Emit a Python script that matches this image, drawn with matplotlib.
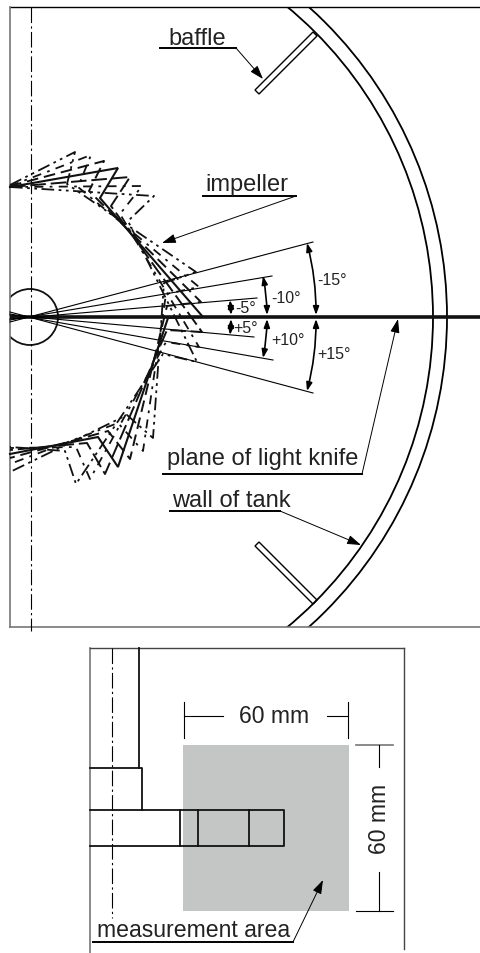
import matplotlib
matplotlib.use("Agg")
import matplotlib.pyplot as plt
from matplotlib.patches import Circle, FancyArrowPatch, Polygon, Rectangle

plt.rcParams['font.family'] = ['Liberation Sans', 'DejaVu Sans']

# everything in image pixels (x right, y down)
centre = (30, 318)
hub_r = 28
wall_r = [403, 417]

# one entry per blade position: -15 -10 -5 0 +5 +10 +15 degrees
blade_start_x = [10, 10, 10, 10, 10, 10, 10]
blade_start_y = [186, 187, 187, 188, 188, 188, 188]
tip_top = [(75, 153), (91, 156), (104, 162), (118, 169), (130, 178), (142, 187), (154, 197)]
root_top = [(67, 185), (78, 188), (89, 192), (100, 199), (111, 207), (120, 215), (128, 222)]
tip_mid = [(196, 273), (199, 288), (201, 303), (203, 318), (202, 333), (199, 348), (197, 363)]
root_mid = [(164, 284), (166, 295), (167, 307), (168, 319), (167, 331), (166, 343), (163, 355)]
tip_bot = [(153, 439), (143, 452), (130, 460), (118, 468), (105, 475), (90, 480), (76, 485)]
root_bot = [(127, 416), (118, 424), (108, 432), (98, 438), (87, 444), (76, 448), (65, 452)]
blade_end_x = [10, 10, 10, 10, 10, 10, 10]
blade_end_y = [473, 465, 459, 455, 451, 449, 448]
blade_dash = [(7, 2.5, 1.5, 2.5, 1.5, 2.5), (5, 3.5, 1.5, 3.5), (6, 3), None, (8, 2.5), (5, 3.5, 1.5, 3.5), (7, 2.5, 1.5, 2.5, 1.5, 2.5)]
blade_lw = [1.3, 1.3, 1.4, 1.5, 1.4, 1.3, 1.3]

# knife plane angle rays: far end, then the bit left of the hub centre
ray_end = [(313, 243), (272, 277), (257, 299), (254, 338), (273, 361), (313, 394)]
ray_left = [(10, 323), (10, 321), (10, 320), (10, 316), (10, 315), (10, 313)]

angle_arc_ends = [((307, 244), (316, 316)), ((263, 277), (267, 316)), ((230, 301), (231, 316)),
                  ((231, 320), (230, 336)), ((267, 320), (263, 359)), ((316, 320), (307, 392))]
angle_arc_rad = [-0.065, -0.044, -0.02, -0.02, -0.044, -0.065]
angle_labels = ['-15°', '-10°', '-5°', '+5°', '+10°', '+15°']
angle_label_x = [317, 271, 235, 233, 271, 317]
angle_label_y = [285, 303, 313, 333, 345, 359]

baffles = [[(255, 91), (259, 95), (317, 37), (313, 33)],
           [(255, 547), (259, 543), (317, 601), (313, 605)]]

# label, x, baseline y, underline start x, underline end x, underline y, arrow tip
callouts = [('baffle', 168, 45, 160, 236, 49, (263, 80)),
            ('impeller', 205, 191, 203, 296, 197, (162, 244)),
            ('plane of light knife', 167, 465, 163, 362, 475, (398, 320)),
            ('wall of tank', 172, 507, 170, 280, 512, (361, 546)),
            ('measurement area', 97, 937, 93, 293, 943, (323, 881))]
callout_size = [17, 17, 17, 17, 16.6]

fig = plt.figure(figsize=(4.8, 9.54), dpi=100)
ax = fig.add_axes([0, 0, 1, 1])
ax.set_xlim(0, 480)
ax.set_ylim(954, 0)
ax.axis("off")

clip = Rectangle((10, 8), 470, 620, transform=ax.transData)

# top panel frame
ax.plot([10, 480], [8, 8], color='black', lw=1)
ax.plot([10, 480], [628, 628], color='#777777', lw=1.2)
ax.plot([10, 10], [8, 628], color='#777777', lw=1.2)
ax.plot([31, 31], [8, 632], color='black', lw=0.8, dashes=(14, 3, 2, 3))

# tank
for r in wall_r:
    c = Circle(centre, r, fill=False, ec='black', lw=1.3)
    ax.add_patch(c)
    c.set_clip_path(clip)
for b in baffles:
    ax.add_patch(Polygon(b, closed=True, fill=False, ec='black', lw=1))

# knife plane and angle rays
ax.plot([10, 480], [318, 318], color='#111111', lw=2.6, solid_capstyle='butt')
for end, left in zip(ray_end, ray_left):
    ax.plot([left[0], end[0]], [left[1], end[1]], color='black', lw=0.8)
hub = Circle(centre, hub_r, fill=False, ec='#111111', lw=1.3)
ax.add_patch(hub)
hub.set_clip_path(clip)

# blades
for i in range(7):
    xs = [blade_start_x[i], tip_top[i][0], root_top[i][0], tip_mid[i][0], root_mid[i][0],
          tip_bot[i][0], root_bot[i][0], blade_end_x[i]]
    ys = [blade_start_y[i], tip_top[i][1], root_top[i][1], tip_mid[i][1], root_mid[i][1],
          tip_bot[i][1], root_bot[i][1], blade_end_y[i]]
    line, = ax.plot(xs, ys, color='#111111', lw=blade_lw[i], solid_joinstyle='miter')
    if blade_dash[i] is not None:
        line.set_dashes(blade_dash[i])

# angle dimension arcs
for (a, b), rad in zip(angle_arc_ends, angle_arc_rad):
    ax.add_patch(FancyArrowPatch(a, b, arrowstyle='<|-|>,head_length=0.7,head_width=0.25',
                                 mutation_scale=7, color='black', lw=1.2,
                                 connectionstyle=f'arc3,rad={rad}', shrinkA=0, shrinkB=0))
for s, x, y in zip(angle_labels, angle_label_x, angle_label_y):
    ax.text(x, y, s, fontsize=11.5, color='#222222', va='baseline')

# labels with underline and leader
for (s, x, y, ux0, ux1, uy, tip), size in zip(callouts, callout_size):
    ax.text(x, y, s, fontsize=size, color='#222222', va='baseline')
    ax.plot([ux0, ux1], [uy, uy], color='black', lw=1.4)
    ax.annotate('', xy=tip, xytext=(ux1, uy),
                arrowprops=dict(arrowstyle='-|>,head_length=0.6,head_width=0.2', mutation_scale=14,
                                color='black', lw=0.7, shrinkA=0, shrinkB=0))

# bottom panel
ax.add_patch(Rectangle((183, 746), 166, 166, fc='#c4c6c6', ec='none', zorder=0))
ax.plot([90, 90], [649, 954], color='#777777', lw=1.2)
ax.plot([90, 404], [649, 649], color='#444444', lw=1)
ax.plot([404, 404], [649, 950], color='#444444', lw=1)
ax.plot([111.5, 111.5], [649, 919], color='black', lw=0.8, dashes=(14, 3, 2, 3))
ax.plot([139, 139, 90], [649, 769, 769], color='#111111', lw=1.3)
ax.plot([142, 142, 139], [811, 769, 769], color='#111111', lw=1.3)
ax.plot([90, 284, 284, 90], [811, 811, 847, 847], color='#111111', lw=1.3)
for x in [180, 198, 249]:
    ax.plot([x, x], [811, 847], color='#111111', lw=1.3)

# 60 mm dimensions
ax.plot([183.5, 183.5], [703, 739], color='black', lw=0.8)
ax.plot([348, 348], [703, 739], color='black', lw=0.8)
ax.plot([183.5, 223], [717, 717], color='black', lw=0.8)
ax.plot([327, 348], [717, 717], color='black', lw=0.8)
ax.text(274, 717, '60 mm', fontsize=16.6, color='#222222', ha='center', va='center')
ax.plot([356, 393], [746, 746], color='#777777', lw=1.2)
ax.plot([356, 393], [912, 912], color='black', lw=0.8)
ax.plot([379, 379], [746, 768], color='black', lw=0.8)
ax.plot([379, 379], [873, 912], color='black', lw=0.8)
ax.text(380, 819, '60 mm', fontsize=16.6, color='#222222', rotation=90, ha='center', va='center')

fig.savefig("out.png", dpi=100)
